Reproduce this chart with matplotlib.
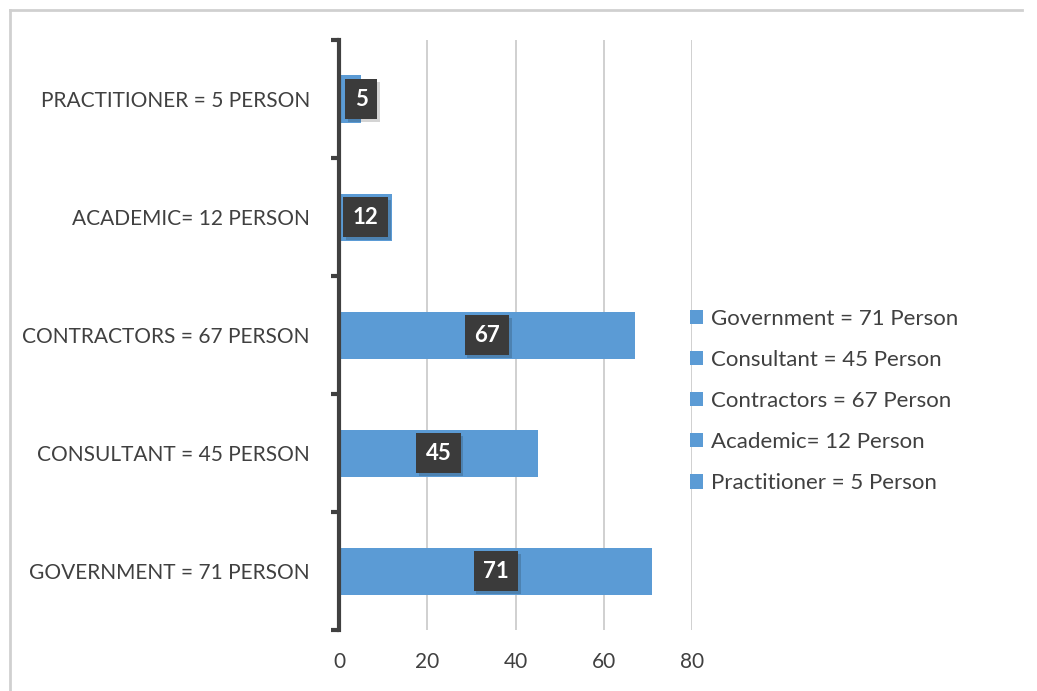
import matplotlib.pyplot as plt
from matplotlib.patches import Patch
from matplotlib.lines import Line2D
import matplotlib.patheffects as pe
import numpy as np

plt.rcParams['font.family'] = ['Lato', 'DejaVu Sans']

# bottom to top, the order the bars are stacked on the axis
categories = ["GOVERNMENT = 71 PERSON", "CONSULTANT = 45 PERSON", "CONTRACTORS = 67 PERSON",
              "ACADEMIC= 12 PERSON", "PRACTITIONER = 5 PERSON"]
legend_labels = ["Government = 71 Person", "Consultant = 45 Person", "Contractors = 67 Person",
                 "Academic= 12 Person", "Practitioner = 5 Person"]
values = [71, 45, 67, 12, 5]
xticks = [0, 20, 40, 60, 80]

blue = "#5b9bd5"
dark = "#3b3b3b"
txt = "#404040"

fig = plt.figure(figsize=(10.37, 6.91), dpi=100)
ax = fig.add_axes([0.327, 0.088, 0.3404, 0.854])

y = np.arange(len(values))
bars = ax.barh(y, values, height=0.4, color=blue, zorder=3)

for yi, v in zip(y, values):
    xpos = max(v / 2, 5)
    t = ax.text(xpos, yi, str(v), ha="center", va="center", color="white",
                fontsize=16, fontweight="bold", zorder=5,
                bbox=dict(boxstyle="square,pad=0.42", fc=dark, ec="none"))
    t.get_bbox_patch().set_path_effects(
        [pe.SimplePatchShadow(offset=(2, -2), alpha=0.18), pe.Normal()])

ax.set_xlim(0, 80)
ax.set_ylim(-0.5, len(values) - 0.5)
ax.set_xticks(xticks)
ax.set_yticks(y)
ax.set_yticklabels(categories)
ax.tick_params(axis="y", which="major", length=0, pad=21, labelsize=15, labelcolor=txt)
ax.tick_params(axis="x", length=0, pad=16, labelsize=15, labelcolor=txt)

# category boundary hooks on the left spine
ax.set_yticks(np.arange(-0.5, len(values)), minor=True)
ax.tick_params(axis="y", which="minor", length=6, width=3, color=txt, direction="out")

ax.grid(axis="x", color="#c8c8c8", linewidth=1.2, zorder=0)
for s in ["top", "right", "bottom"]:
    ax.spines[s].set_visible(False)
ax.spines["left"].set_color(txt)
ax.spines["left"].set_linewidth(3)
ax.spines["left"].set_zorder(4)

handles = [Patch(facecolor=blue, edgecolor="none") for _ in legend_labels]
fig.legend(handles, legend_labels, loc="upper left", bbox_to_anchor=(0.646, 0.582),
           frameon=False, fontsize=16, labelcolor=txt, handlelength=0.6,
           handleheight=0.6, handletextpad=0.35, labelspacing=0.95)

# chart frame
fig.add_artist(Line2D([0.0096, 0.986], [0.986, 0.986], color="#d0d0d0", lw=2))
fig.add_artist(Line2D([0.0096, 0.0096], [0.986, 0.0], color="#d0d0d0", lw=2))

fig.savefig("out.png", dpi=100)
